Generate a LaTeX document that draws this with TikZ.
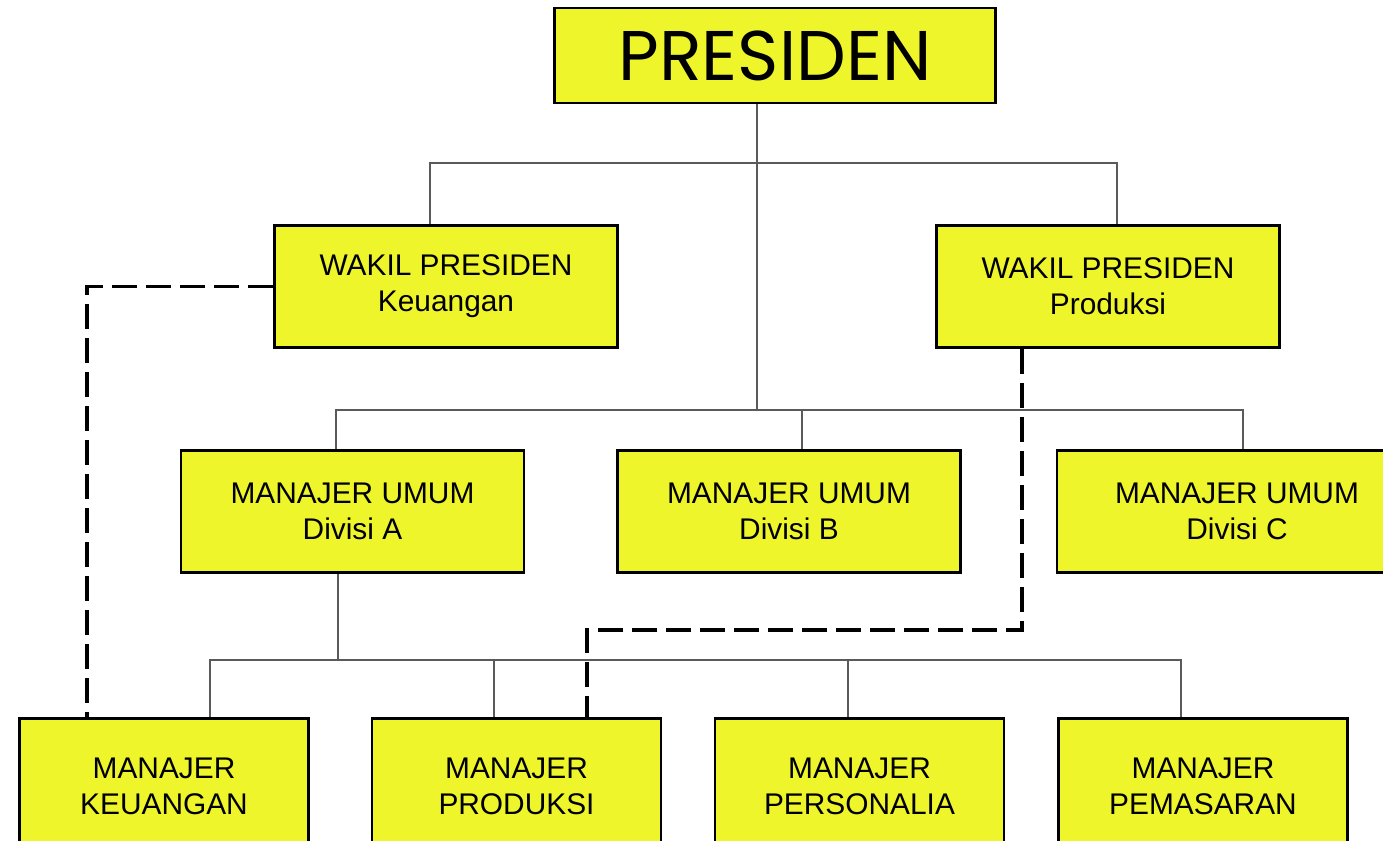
\documentclass[tikz,border=0pt]{standalone}
\usepackage{fontspec}
\setmainfont{Liberation Sans}
\newfontfamily\titlefont{Poppins}
\usepackage{tikz}
\definecolor{boxyellow}{HTML}{EFF52B}
\definecolor{linegray}{HTML}{5A5A5A}

\begin{document}
\begin{tikzpicture}[x=0.02cm,y=-0.02cm,
  box/.style={draw=black,line width=1.6pt,fill=boxyellow,align=center,inner sep=0pt,
    minimum width=6.86cm,minimum height=2.44cm,font=\fontsize{17}{20.4}\selectfont},
  lowbox/.style={box,minimum width=5.78cm,minimum height=2.7cm},
  link/.style={draw=linegray,line width=0.7pt},
  dotlink/.style={draw=black,line width=2.2pt,dash pattern=on 0.5cm off 0.18cm}]
\useasboundingbox (0,0) rectangle (1383,841);
\clip (0,0) rectangle (1383,841);

\node[box,minimum width=8.82cm,minimum height=1.9cm,font=\titlefont\fontsize{40}{42}\selectfont] (pres) at (775,55.5) {PRESIDEN};
\node[box] (wpk) at (446,286.5) {WAKIL PRESIDEN\\Keuangan};
\node[box] (wpp) at (1108,286.5) {WAKIL PRESIDEN\\Produksi};
\node[box] (mua) at (352.5,511.5) {MANAJER UMUM\\Divisi A};
\node[box] (mub) at (789,511.5) {MANAJER UMUM\\Divisi B};
\node[box,minimum width=7.2cm] (muc) at (1237,511.5) {MANAJER UMUM\\Divisi C};
\node[lowbox] (mkeu) at (164,786) {MANAJER\\KEUANGAN};
\node[lowbox] (mprod) at (516.5,786) {MANAJER\\PRODUKSI};
\node[lowbox] (mpers) at (859.5,786) {MANAJER\\PERSONALIA};
\node[lowbox] (mpem) at (1203,786) {MANAJER\\PEMASARAN};

% garis komando
\coordinate (bus1) at (757,163);
\coordinate (bus2) at (757,410);
\coordinate (bus3) at (338,660);
\draw[link] (pres.south -| bus1) to (bus2);
\draw[link] (wpk.north -| 430,0) |- (bus1) -| (wpp.north -| 1117,0);
\draw[link] (mua.north -| 336,0) |- (bus2) -| (muc.north -| 1243,0);
\draw[link] (bus2) -| (mub.north -| 802,0);
\draw[link] (mua.south -| bus3) to (bus3);
\draw[link] (mkeu.north -| 210,0) |- (bus3) -| (mpem.north -| 1181,0);
\draw[link] (bus3) -| (mprod.north -| 494,0);
\draw[link] (bus3) -| (mpers.north -| 848,0);

% garis fungsional
\draw[dotlink] (wpk.west) -| (mkeu.north -| 87,0);
\draw[dotlink] (wpp.south -| 1022,0) |- (587,630) to (mprod.north -| 587,0);
\end{tikzpicture}
\end{document}
